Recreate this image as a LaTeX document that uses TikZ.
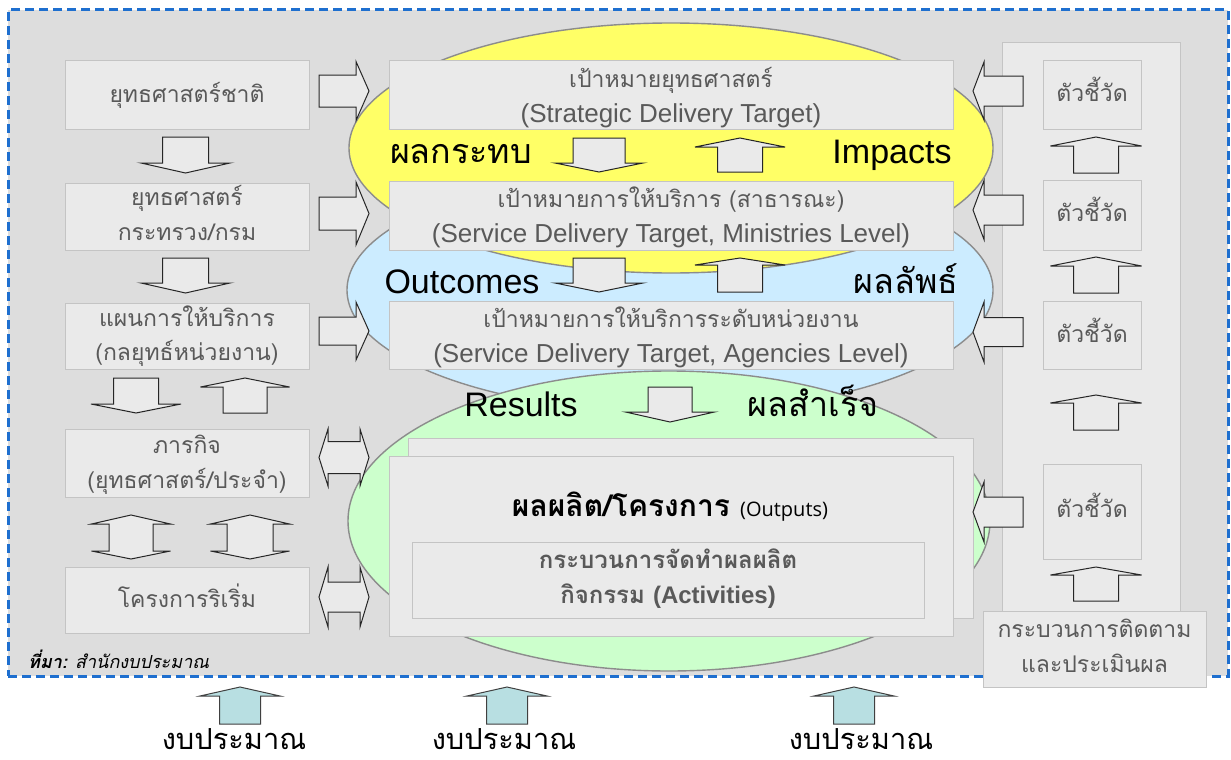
\documentclass[tikz,border=0pt]{standalone}
\usepackage{fontspec}
\setmainfont{Liberation Sans}
\newfontfamily\thai[Script=Thai]{Loma}
\newfontfamily\en{Liberation Sans}
\newfontfamily\ops{Open Sans}
\newcommand\fsz[1]{\fontsize{#1}{#1}\selectfont}
\definecolor{bgc}{HTML}{DDDDDD}
\definecolor{boxfill}{HTML}{EAEAEA}
\definecolor{boxline}{HTML}{C4C4C4}
\definecolor{txtgray}{HTML}{595959}
\definecolor{yel}{HTML}{FFFF66}
\definecolor{blu}{HTML}{CCECFF}
\definecolor{grn}{HTML}{CCFFCC}
\definecolor{ellline}{HTML}{8C8C8C}
\definecolor{dashblue}{HTML}{1E6FCF}
\definecolor{teal}{HTML}{B8DFE2}
\tikzset{
  gbox/.style={draw=boxline, fill=boxfill, line width=1pt, inner sep=0pt},
  txt/.style={inner sep=0pt, anchor=base, text=txtgray},
  btxt/.style={inner sep=0pt, anchor=base, text=black},
  blk/.style={draw=black!85, fill=boxfill, line width=1pt, line join=miter},
  tealarr/.style={draw=black!75, fill=teal, line width=1pt, line join=miter},
  ell/.style={ellipse, draw=ellline, line width=1.4pt, inner sep=0pt},
}
% vertical block arrow: cx, ytail, ybase, ytip, shaft half width, head half width
\newcommand\VArr[7][blk]{%
  \filldraw[#1] ({#2-#6},#3) -- ({#2+#6},#3) -- ({#2+#6},#4) -- ({#2+#7},#4) -- (#2,#5) -- ({#2-#7},#4) -- ({#2-#6},#4) -- cycle;}
% horizontal block arrow: cy, xtail, xbase, xtip, s, h
\newcommand\HArr[6]{%
  \filldraw[blk] (#2,{#1-#5}) -- (#2,{#1+#5}) -- (#3,{#1+#5}) -- (#3,{#1+#6}) -- (#4,#1) -- (#3,{#1-#6}) -- (#3,{#1-#5}) -- cycle;}
% double vertical: cx, ytip1, ybase1, ybase2, ytip2, s, h
\newcommand\VVArr[7]{%
  \filldraw[blk] (#1,#2) -- ({#1+#7},#3) -- ({#1+#6},#3) -- ({#1+#6},#4) -- ({#1+#7},#4) -- (#1,#5) -- ({#1-#7},#4) -- ({#1-#6},#4) -- ({#1-#6},#3) -- ({#1-#7},#3) -- cycle;}
% double horizontal: cy, xtip1, xbase1, xbase2, xtip2, s, h
\newcommand\HHArr[7]{%
  \filldraw[blk] (#2,#1) -- (#3,{#1-#7}) -- (#3,{#1-#6}) -- (#4,{#1-#6}) -- (#4,{#1-#7}) -- (#5,#1) -- (#4,{#1+#7}) -- (#4,{#1+#6}) -- (#3,{#1+#6}) -- (#3,{#1+#7}) -- cycle;}
\usetikzlibrary{shapes.geometric}
\begin{document}
\begin{tikzpicture}[x=1pt,y=-1pt]
\useasboundingbox (0,0) rectangle (1231,760);
\fill[white] (0,0) rectangle (1231,760);
% main frame
\node[draw=dashblue, fill=bgc, line width=3pt, dash pattern=on 9pt off 5pt, minimum width=1220, minimum height=666, inner sep=0pt] (frame) at (618,343) {};
% ellipses
\node[ell, fill=blu, minimum width=646, minimum height=244] (Eout) at (670,290) {};
\node[ell, fill=yel, minimum width=644, minimum height=250] (Eimp) at (671,148) {};
\node[ell, fill=grn, minimum width=642, minimum height=300] (Eres) at (669,521) {};
% right panel
\node[gbox, minimum width=178, minimum height=622] (panel) at (1091,354) {};
% left boxes
\node[gbox, minimum width=244, minimum height=68] (L1) at (187,95) {};
\node[gbox, minimum width=244, minimum height=67] (L2) at (187,216.5) {};
\node[gbox, minimum width=244, minimum height=66] (L3) at (187,336) {};
\node[gbox, minimum width=244, minimum height=68] (L4) at (187,463) {};
\node[gbox, minimum width=244, minimum height=66] (L5) at (187,600) {};
% centre boxes
\node[gbox, minimum width=564, minimum height=68] (C1) at (671,95) {};
\node[gbox, minimum width=564, minimum height=69] (C2) at (671,215.5) {};
\node[gbox, minimum width=564, minimum height=68] (C3) at (671,335) {};
\node[gbox, minimum width=565, minimum height=180] (Pback) at (690.5,528) {};
\node[gbox, minimum width=564, minimum height=180] (P) at (671,546) {};
\node[gbox, minimum width=512, minimum height=76] (Pin) at (668,580) {};
% indicator boxes
\node[gbox, minimum width=98, minimum height=68] (I1) at (1092,95) {};
\node[gbox, minimum width=98, minimum height=70] (I2) at (1092,215) {};
\node[gbox, minimum width=98, minimum height=68] (I3) at (1092,335) {};
\node[gbox, minimum width=98, minimum height=95] (I4) at (1092,511.5) {};
% arrows left column
\VArr{185.5}{137}{163}{173}{23}{44.5}
\VArr{185.5}{258}{283}{293}{23}{44.5}
\VArr{136}{378}{404}{413}{22.5}{45}
\VArr{245}{413}{387}{378}{22}{44.5}
\VVArr{131}{515}{524}{551}{559}{22}{39.5}
\VVArr{250}{515}{524}{551}{559}{23}{39.5}
\HArr{91}{319}{356}{369}{16}{29.5}
\HArr{213.5}{319}{356}{369}{16.5}{31.5}
\HArr{331}{319}{356}{369}{14}{29}
\HHArr{457.5}{319}{328}{360}{369}{16}{28.5}
\HHArr{597}{319}{328}{360}{369}{15}{30}
% arrows centre
\VArr{599}{138}{163}{172}{26}{44}
\VArr{740}{172}{147}{138}{22.5}{45}
\VArr{599}{258}{283}{292}{26}{44}
\VArr{740}{292}{265}{258}{22.5}{45}
\VArr{670}{387}{412}{422}{22}{44.5}
% arrows right column
\VArr{1096}{173}{146}{137}{22.5}{45.5}
\VArr{1096}{293}{266}{257}{22.5}{45.5}
\VArr{1096}{430}{403}{395}{22.5}{45.5}
\VArr{1096}{601}{575}{567}{22.5}{45.5}
\HArr{91}{1023}{984}{973}{15}{29}
\HArr{210}{1023}{984}{973}{15}{29.5}
\HArr{332}{1023}{984}{973}{14.5}{30}
\HArr{512}{1023}{984}{973}{15}{30}
% process box
\node[gbox, minimum width=223, minimum height=76] (proc) at (1094.5,649) {};
% texts left
\node[txt] (L1a) at (187,102) {\thai\fsz{23}ยุทธศาสตร์ชาติ};
\node[txt] (L2a) at (187,205) {\thai\fsz{23}ยุทธศาสตร์};
\node[txt] (L2b) at (187,240) {\thai\fsz{23}กระทรวง/กรม};
\node[txt] (L3a) at (187,326) {\thai\fsz{23}แผนการให้บริการ};
\node[txt] (L3b) at (187,360) {\thai\fsz{23}(กลยุทธ์หน่วยงาน)};
\node[txt] (L4a) at (187,453) {\thai\fsz{23}ภารกิจ};
\node[txt] (L4b) at (187,488) {\thai\fsz{23}(ยุทธศาสตร์/ประจำ)};
\node[txt] (L5a) at (187,607) {\thai\fsz{23}โครงการริเริ่ม};
% texts centre boxes
\node[txt] (C1a) at (671,87) {\thai\fsz{23}เป้าหมายยุทธศาสตร์};
\node[txt] (C1b) at (671,122) {\en\fsz{26}(Strategic Delivery Target)};
\node[txt] (C2a) at (671,207) {\thai\fsz{23}เป้าหมายการให้บริการ (สาธารณะ)};
\node[txt] (C2b) at (671,242) {\en\fsz{26}(Service Delivery Target, Ministries Level)};
\node[txt] (C3a) at (671,327) {\thai\fsz{23}เป้าหมายการให้บริการระดับหน่วยงาน};
\node[txt] (C3b) at (671,362) {\en\fsz{26}(Service Delivery Target, Agencies Level)};
% ellipse labels
\node[btxt] (T1) at (461,163) {\thai\fsz{34}ผลกระทบ};
\node[btxt] (T2) at (892,163) {\en\fsz{34}Impacts};
\node[btxt] (T3) at (462,293) {\en\fsz{34}Outcomes};
\node[btxt] (T4) at (906,293) {\thai\fsz{34}ผลลัพธ์};
\node[btxt] (T5) at (521,416) {\en\fsz{34}Results};
\node[btxt] (T6) at (813,416) {\thai\fsz{34}ผลสำเร็จ};
% outputs
\node[btxt] (Pt) at (670,516) {\thai\bfseries\fsz{30}ผลผลิต/โครงการ\ {\ops\mdseries\fsz{20}(Outputs)}};
\node[txt] (Pa) at (668,568) {\thai\bfseries\fsz{24}กระบวนการจัดทำผลผลิต};
\node[txt] (Pb) at (668,603) {\thai\bfseries\fsz{24}กิจกรรม {\en\fsz{24}(Activities)}};
% indicators
\node[txt] (I1t) at (1092,101) {\thai\fsz{23}ตัวชี้วัด};
\node[txt] (I2t) at (1092,221) {\thai\fsz{23}ตัวชี้วัด};
\node[txt] (I3t) at (1092,342) {\thai\fsz{23}ตัวชี้วัด};
\node[txt] (I4t) at (1092,517) {\thai\fsz{23}ตัวชี้วัด};
\node[txt] (procA) at (1094.5,637) {\thai\fsz{23}กระบวนการติดตาม};
\node[txt] (procB) at (1094.5,672) {\thai\fsz{23}และประเมินผล};
% source
\node[btxt, anchor=base west] (src) at (28,668) {\thai\itshape\fsz{18}{\bfseries ที่มา:} สำนักงบประมาณ};
% budget
\VArr[tealarr]{240}{724}{696}{687}{20.5}{40}
\VArr[tealarr]{507}{724}{696}{687}{20.5}{40}
\VArr[tealarr]{854}{724}{696}{687}{20.5}{40}
\node[btxt] (B1) at (234,749) {\thai\fsz{29}งบประมาณ};
\node[btxt] (B2) at (504,749) {\thai\fsz{29}งบประมาณ};
\node[btxt] (B3) at (861,749) {\thai\fsz{29}งบประมาณ};
\end{tikzpicture}
\end{document}
